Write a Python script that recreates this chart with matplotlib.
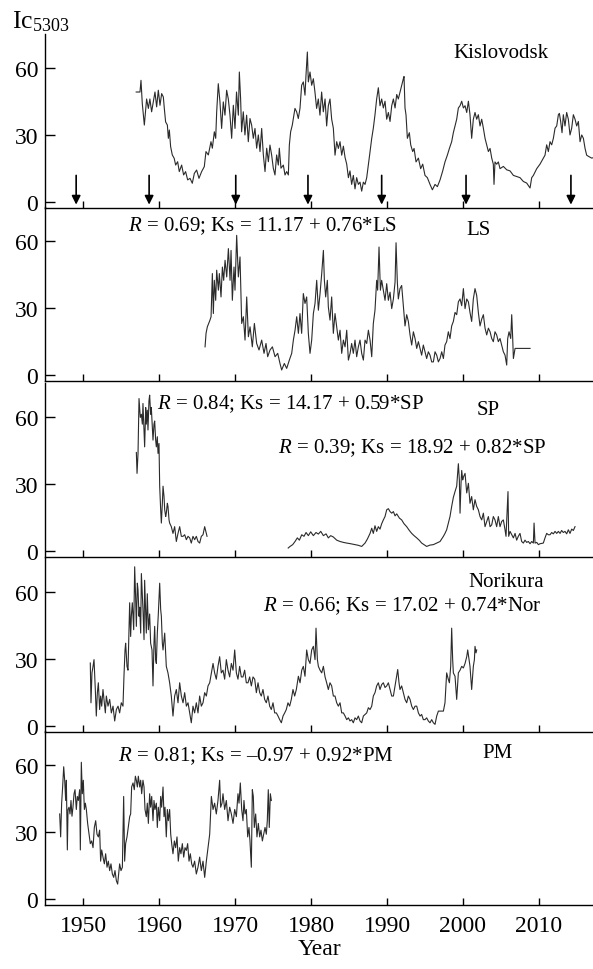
import numpy as np
import matplotlib
matplotlib.use("Agg")
import matplotlib.pyplot as plt

plt.rcParams['font.family'] = ['Liberation Serif', 'DejaVu Serif']
plt.rcParams['mathtext.fontset'] = 'custom'
plt.rcParams['mathtext.rm'] = 'Liberation Serif'
plt.rcParams['mathtext.it'] = 'Liberation Serif:italic'

# ---------------- data ----------------
kis_year = [1957.0, 1957.5, 1957.63, 1957.8, 1958.07, 1958.37, 1958.6, 1958.8, 1959.03, 1959.25, 1959.47, 1959.69,
            1959.91, 1960.13, 1960.35, 1960.57, 1960.7, 1960.87, 1961.1, 1961.23, 1961.36, 1961.53, 1961.75, 1962.0,
            1962.19, 1962.45, 1962.67, 1962.98, 1963.24, 1963.5, 1963.77, 1964.08, 1964.38, 1964.65, 1964.95,
            1965.26, 1965.61, 1965.96, 1966.18, 1966.49, 1966.84, 1967.02, 1967.28, 1967.46, 1967.59, 1967.8,
            1968.02, 1968.24, 1968.46, 1968.68, 1968.9, 1969.12, 1969.34, 1969.56, 1969.78, 1970.0, 1970.2,
            1970.44, 1970.57, 1970.74, 1970.87, 1971.09, 1971.31, 1971.53, 1971.75, 1971.97, 1972.19, 1972.41,
            1972.63, 1972.85, 1973.07, 1973.29, 1973.51, 1973.73, 1973.95, 1974.17, 1974.39, 1974.6, 1974.82,
            1975.04, 1975.26, 1975.48, 1975.7, 1975.83, 1976.05, 1976.36, 1976.58, 1976.8, 1977.02, 1977.15,
            1977.32, 1977.54, 1977.89, 1978.11, 1978.33, 1978.55, 1978.77, 1978.99, 1979.21, 1979.34, 1979.52,
            1979.65, 1979.87, 1980.09, 1980.31, 1980.52, 1980.74, 1980.96, 1981.18, 1981.4, 1981.62,
            1981.85, 1982.06, 1982.28, 1982.5, 1982.72, 1982.94, 1983.16, 1983.38, 1983.6, 1983.82, 1984.04,
            1984.26, 1984.48, 1984.7, 1984.92, 1985.13, 1985.35, 1985.57, 1985.79, 1986.01, 1986.23, 1986.45,
            1986.67, 1986.89, 1987.11, 1987.33, 1987.55, 1987.77, 1987.99, 1988.2, 1988.42, 1988.64, 1988.86,
            1989.08, 1989.3, 1989.52, 1989.74, 1989.96, 1990.18, 1990.4, 1990.62, 1990.84, 1991.06, 1991.28,
            1991.49, 1991.71, 1991.93, 1992.15, 1992.24, 1992.37, 1992.5, 1992.68, 1992.94, 1993.12, 1993.38,
            1993.56, 1993.82, 1994.13, 1994.43, 1994.7, 1995.0, 1995.31, 1995.66, 1995.97, 1996.32, 1996.63,
            1996.98, 1997.33, 1997.63, 1997.94, 1998.21, 1998.51, 1998.73, 1998.95, 1999.17, 1999.39, 1999.61,
            1999.83, 2000.05, 2000.27, 2000.49, 2000.71, 2000.92, 2001.14, 2001.36, 2001.58, 2001.8, 2002.02,
            2002.24, 2002.46, 2002.68, 2002.9, 2003.12, 2003.34, 2003.56, 2003.78, 2003.99, 2004.08, 2004.21,
            2004.43, 2004.65, 2004.87, 2005.31, 2005.75, 2006.19, 2006.63, 2007.06, 2007.5, 2007.94, 2008.38,
            2008.82, 2009.04, 2009.26, 2009.7, 2010.13, 2010.57, 2010.79, 2011.01, 2011.23, 2011.45, 2011.67,
            2011.89, 2012.11, 2012.33, 2012.55, 2012.68, 2012.85, 2013.03, 2013.2, 2013.42, 2013.64, 2013.86,
            2014.08, 2014.3, 2014.52, 2014.74, 2014.96, 2015.18, 2015.4, 2015.62, 2015.84, 2016.06, 2016.27,
            2016.5, 2016.93, 2017.3]
kis_val = [49.1, 49.1, 54.3, 44, 34.4, 46, 41.8, 46, 40.3, 44.7, 49.1, 42.5,
           49.9, 43.2, 48.4, 46.9, 41.8, 35.8, 34.4, 28.5, 32.2, 24.8, 21.1, 19.6,
           16.6, 18.1, 13.7, 16.6, 12.2, 13.7, 10, 10.7, 8.5, 12.9, 14.4,
           10.7, 13.7, 15.9, 22.6, 21.1, 27, 24.1, 31.4, 28.5, 40.3, 52.8,
           44.7, 32.9, 44.7, 38.8, 49.9, 46, 38.8, 28.5, 43.2, 32.9, 49.1,
           38.8, 58, 46, 31.4, 40.3, 30, 38.8, 27, 37.3, 34.4, 28.5,
           32.9, 24.1, 30, 22.6, 32.9, 21.1, 13.7, 24.1, 18.1, 25.5, 21.1,
           15.2, 12.2, 21.1, 16.6, 24.1, 15.2, 16.6, 12.2, 13.7, 12.2, 25.5,
           31.4, 34.4, 41.8, 40.3, 37.3, 41.8, 52.1, 53.6, 47.7, 56.5, 66.9,
           53.6, 58, 52.1, 55, 49.1, 41.8, 46, 38.8, 49.1, 40.3,
           46, 34, 43, 46, 37, 33, 21, 27, 24, 27, 21,
           25, 20, 17, 11, 14, 8, 12, 6, 11, 8, 9,
           5, 9, 8, 11, 17, 22.6, 28.5, 33, 39, 46, 51,
           43, 46, 42, 45, 37, 40, 36, 43, 46, 42, 48,
           46, 49, 52, 55, 56, 42, 39, 28.5, 31, 25.6, 22.6,
           24, 18, 19.7, 15, 17, 12, 11, 8, 5.6, 8, 7,
           10, 14, 18, 21, 24, 27, 31, 34, 37, 42, 43,
           45, 42, 43, 40, 45, 39, 28.5, 37, 40, 37, 39,
           34, 37, 33, 28.5, 25.6, 22.6, 24, 19.7, 17, 8, 18,
           17, 18, 15, 16, 14.5, 14, 12, 11.5, 11, 9.3, 8.6,
           6.4, 11, 12, 15, 17, 19.7, 21, 25.6, 22.6, 27, 25.6,
           28.5, 33, 34, 39, 39.6, 36, 31, 39, 34, 40, 37,
           30, 33, 39, 37, 34, 36, 27, 30, 28.5, 24, 21,
           20.5, 19.7, 20]

ls_year = [1966.06, 1966.19, 1966.36, 1966.71, 1966.85, 1967.02, 1967.15, 1967.28, 1967.46, 1967.59, 1967.81,
           1967.94, 1968.16, 1968.34, 1968.51, 1968.69, 1968.91, 1969.13, 1969.35, 1969.48, 1969.65, 1969.87,
           1970.0, 1970.22, 1970.44, 1970.66, 1970.88, 1971.1, 1971.32, 1971.54, 1971.76, 1971.98, 1972.28,
           1972.55, 1972.85, 1973.16, 1973.51, 1973.82, 1974.08, 1974.3, 1974.61, 1974.92, 1975.27, 1975.62,
           1975.92, 1976.14, 1976.49, 1976.8, 1977.15, 1977.46, 1977.68, 1977.9, 1978.12, 1978.34, 1978.55,
           1978.77, 1978.99, 1979.21, 1979.43, 1979.65, 1979.87, 1980.09, 1980.31, 1980.53, 1980.75, 1980.97,
           1981.19, 1981.41, 1981.63, 1981.76, 1981.93, 1982.15, 1982.28, 1982.5, 1982.72, 1982.94, 1983.16,
           1983.38, 1983.6, 1983.82, 1984.04, 1984.26, 1984.48, 1984.7, 1984.92, 1985.14, 1985.35, 1985.57,
           1985.79, 1986.01, 1986.23, 1986.45, 1986.67, 1986.89, 1987.11, 1987.33, 1987.55, 1987.77, 1987.99,
           1988.2, 1988.42, 1988.64, 1988.77, 1988.95, 1989.13, 1989.3, 1989.52, 1989.74, 1989.96, 1990.18,
           1990.4, 1990.62, 1990.84, 1991.06, 1991.19, 1991.36, 1991.49, 1991.71, 1991.93, 1992.15, 1992.37,
           1992.59, 1992.81, 1993.03, 1993.25, 1993.47, 1993.69, 1993.91, 1994.13, 1994.35, 1994.56, 1994.78,
           1995.0, 1995.22, 1995.44, 1995.66, 1995.88, 1996.1, 1996.32, 1996.54, 1996.76, 1996.98, 1997.2,
           1997.42, 1997.63, 1997.85, 1998.07, 1998.29, 1998.51, 1998.73, 1998.95, 1999.17, 1999.39, 1999.61,
           1999.83, 2000.05, 2000.27, 2000.49, 2000.71, 2000.92, 2001.14, 2001.36, 2001.58, 2001.8, 2002.02,
           2002.24, 2002.46, 2002.68, 2002.9, 2003.12, 2003.34, 2003.56, 2003.78, 2003.99, 2004.21, 2004.43,
           2004.65, 2004.87, 2005.09, 2005.31, 2005.53, 2005.75, 2005.88, 2006.06, 2006.28, 2006.41, 2006.54,
           2006.63, 2006.85, 2008.82]
ls_val = [12.7, 18.7, 21.6, 24.6, 26.1, 45.3, 27.5, 42.3, 33.4, 46.8, 37.9,
          45.3, 34.9, 48.2, 42.3, 51.2, 43.8, 56.4, 42.3, 55.6, 33.4, 48.2,
          37.9, 62.3, 43.8, 52.7, 23.1, 26.1, 15.7, 34.9, 17.2, 21.6, 12.7,
          23.1, 14.2, 11.3, 15.7, 9.8, 14.2, 8.3, 11.3, 12.7, 8.3, 9.8,
          5.3, 2.4, 5.3, 3.1, 6.8, 9.8, 15.7, 20.1, 26.1, 18.7, 27.5,
          18.7, 36.4, 32, 34.9, 18.7, 9.8, 15.7, 27.5, 32, 42.3, 29,
          36.4, 45.3, 55.6, 42.3, 34.9, 42.3, 30.5, 24.6, 34.9, 18.7, 27.5,
          21.6, 15.7, 20.1, 9.8, 15.7, 12.7, 20.1, 6.8, 9.8, 14.2, 9.8,
          15.7, 8.3, 12.7, 15.7, 9.8, 6.8, 15.7, 14.2, 20.1, 15.7, 8.3,
          23.1, 29, 42.3, 37.9, 57.1, 37.9, 42.3, 37.9, 33.4, 40.8, 33.4,
          37, 29.7, 34, 41.5, 59, 41.5, 34, 38.6, 40, 31, 22,
          27, 24, 18, 13.5, 19.4, 16.4, 12, 15, 12, 9, 13.5,
          10.5, 7.5, 10.5, 9, 6, 6, 10.5, 9, 6, 7.5, 10.5,
          7.5, 13.5, 15, 19.4, 16.4, 22, 24, 28, 27, 32.7, 34,
          31, 38.6, 29.7, 34, 32.7, 28, 24, 34, 38.6, 35.6, 28,
          22, 25, 27, 21, 18, 21, 19.4, 16.4, 15, 19.4, 18,
          15, 16.4, 13.5, 10.5, 9, 4.6, 16.4, 19.4, 16.4, 27, 16.4,
          7.5, 12, 12]

sp_year = [1957.02, 1957.11, 1957.24, 1957.37, 1957.54, 1957.68, 1957.81, 1957.89, 1958.03, 1958.11, 1958.25,
           1958.33, 1958.46, 1958.55, 1958.68, 1958.77, 1958.9, 1958.99, 1959.12, 1959.21, 1959.34, 1959.43,
           1959.56, 1959.65, 1959.78, 1959.87, 1960.0, 1960.09, 1960.22, 1960.31, 1960.44, 1960.53, 1960.66,
           1960.75, 1960.88, 1960.96, 1961.1, 1961.18, 1961.32, 1961.4, 1961.62, 1961.84, 1962.06, 1962.28,
           1962.5, 1962.72, 1962.94, 1963.16, 1963.38, 1963.6, 1963.82, 1964.04, 1964.25, 1964.47, 1964.69,
           1964.91, 1965.13, 1965.35, 1965.57, 1965.79, 1966.01, 1966.23, 1966.32,
           1971.0,
           1977.0, 1977.24, 1977.59, 1977.9, 1978.2, 1978.47, 1978.78, 1979.08, 1979.35, 1979.65, 1979.96,
           1980.31, 1980.66, 1980.97, 1981.28, 1981.63, 1981.98, 1982.28, 1982.59, 1982.94, 1983.38, 1983.82,
           1984.26, 1984.7, 1985.22, 1985.79, 1986.23, 1986.67, 1987.11, 1987.42, 1987.77, 1987.99, 1988.2,
           1988.42, 1988.64, 1988.86, 1989.08, 1989.3, 1989.52, 1989.74, 1989.96, 1990.18, 1990.4, 1990.62,
           1990.84, 1991.06, 1991.28, 1991.63, 1991.93, 1992.24, 1992.59, 1992.94, 1993.25, 1993.56, 1993.91,
           1994.26, 1994.56, 1994.87, 1995.22, 1995.66, 1996.1, 1996.54, 1996.98, 1997.42, 1997.63, 1997.85,
           1998.07, 1998.29, 1998.51, 1998.73, 1998.95, 1999.17, 1999.39, 1999.52, 1999.61, 1999.74, 1999.83,
           1999.96, 2000.05, 2000.27, 2000.49, 2000.71, 2000.92, 2001.14, 2001.36, 2001.58, 2001.8, 2002.02,
           2002.24, 2002.46, 2002.68, 2002.9, 2003.12, 2003.34, 2003.56, 2003.78, 2003.99, 2004.21, 2004.43,
           2004.65, 2004.87, 2005.09, 2005.31, 2005.53, 2005.66, 2005.92, 2006.01, 2006.19, 2006.41, 2006.63,
           2006.85, 2007.06, 2007.28, 2007.5, 2007.72, 2007.94, 2008.16, 2008.38, 2008.6, 2008.82, 2009.04,
           2009.26, 2009.35, 2009.48, 2009.7, 2009.92, 2010.13, 2010.57, 2010.79, 2011.01, 2011.23, 2011.45,
           2011.67, 2011.89, 2012.11, 2012.33, 2012.55, 2012.77, 2012.98, 2013.2, 2013.42, 2013.64, 2013.86,
           2014.08, 2014.3, 2014.52, 2014.74]
sp_val = [44, 34.7, 43.6, 68, 59.6, 61, 56.6, 65.8, 54, 46.5, 64,
          56.6, 62.8, 54, 67, 69.5, 61, 64, 55, 49.5, 56.6, 58,
          49.5, 46.5, 51, 43.6, 48, 29, 18.5, 12.6, 21.4, 29, 24.4,
          18.5, 15.5, 17, 21.4, 20, 14, 12.6, 11, 8, 11, 4.4,
          8, 11, 6.7, 6.7, 7.4, 5.2, 6.7, 6, 3.7, 6.7, 5.2,
          6.7, 4.4, 3.7, 6.7, 7.4, 11, 8, 6.7,
          np.nan,
          1.5, 2.2, 3, 4.4, 6, 5, 7.4, 6.7, 8.4, 7, 8.7,
          7, 8.4, 7.7, 8.9, 7, 7.8, 6, 7, 6.4, 5, 4.4,
          4, 3.7, 3.4, 3, 2.7, 2.2, 3.7, 5.5, 8, 10.3, 8,
          11.4, 8.9, 11, 9.9, 12.3, 14, 15.5, 18.5, 19, 17.7, 17,
          17.7, 15.8, 16.7, 14.8, 14, 12.3, 11, 9.3, 8, 7, 6,
          4.9, 3.7, 3, 2.2, 2.8, 3, 3.7, 4.4, 6.7, 8, 9.6,
          12.6, 15.5, 20, 24, 26.6, 29, 39, 31.8, 17, 30.3, 36,
          31.8, 33, 34.7, 26, 30.3, 21.4, 24.4, 18.5, 23, 20, 18.5,
          15.5, 14, 17, 11, 13.3, 15.5, 11, 11.8, 15.5, 14, 11,
          15.5, 11, 13.3, 14, 9.6, 6.7, 26.6, 6.7, 8.9, 7.4, 6,
          8, 5, 6.7, 8, 4.4, 3.7, 5, 4, 4.4, 3.4, 4.4,
          3.7, 12.6, 3.7, 4, 3, 3.4, 3.7, 6, 8, 7.4, 7.4,
          8.4, 7.8, 8.9, 8, 8.9, 8, 9.3, 8.4, 8.9, 7.8, 9.6,
          8, 9.9, 9.3, 11]

nor_year = [1950.96, 1951.05, 1951.18, 1951.32, 1951.45, 1951.62, 1951.75, 1951.89, 1952.02, 1952.19, 1952.32,
            1952.46, 1952.63, 1952.76, 1952.94, 1953.07, 1953.29, 1953.51, 1953.73, 1953.95, 1954.17, 1954.39,
            1954.61, 1954.82, 1955.04, 1955.26, 1955.39, 1955.53, 1955.61, 1955.79, 1955.92, 1956.05, 1956.14,
            1956.27, 1956.36, 1956.49, 1956.67, 1956.8, 1956.93, 1957.02, 1957.15, 1957.24, 1957.37, 1957.46,
            1957.59, 1957.68, 1957.81, 1957.89, 1958.03, 1958.11, 1958.25, 1958.33, 1958.46, 1958.6, 1958.77,
            1958.9, 1959.08, 1959.21, 1959.34, 1959.43, 1959.56, 1959.65, 1959.78, 1959.91, 1960.09, 1960.22,
            1960.31, 1960.44, 1960.53, 1960.75, 1960.96, 1961.18, 1961.4, 1961.62, 1961.84, 1962.06, 1962.28,
            1962.5, 1962.72, 1962.94, 1963.16, 1963.38, 1963.6, 1963.82, 1964.04, 1964.25, 1964.47, 1964.69,
            1964.91, 1965.13, 1965.35, 1965.57, 1965.79, 1966.01, 1966.23, 1966.45, 1966.67, 1966.89, 1967.11,
            1967.32, 1967.54, 1967.76, 1967.98, 1968.2, 1968.42, 1968.64, 1968.86, 1969.08, 1969.3, 1969.52,
            1969.74, 1969.96, 1970.18, 1970.39, 1970.61, 1970.83, 1971.05, 1971.27, 1971.49, 1971.71, 1971.93,
            1972.15, 1972.37, 1972.59, 1972.81, 1973.03, 1973.25, 1973.46, 1973.68, 1973.9, 1974.12, 1974.34,
            1974.56, 1974.78, 1975.0, 1975.22, 1975.44, 1975.66, 1975.88, 1976.1, 1976.32, 1976.54, 1976.75,
            1976.97, 1977.19, 1977.41, 1977.63, 1977.85, 1978.07, 1978.34, 1978.56, 1978.78, 1978.99, 1979.21,
            1979.43, 1979.65, 1979.87, 1980.09, 1980.31, 1980.53, 1980.66, 1980.84, 1980.97, 1981.19, 1981.41,
            1981.63, 1981.85, 1982.06, 1982.28, 1982.5, 1982.72, 1982.94, 1983.16, 1983.38, 1983.6, 1983.82,
            1984.04, 1984.26, 1984.48, 1984.7, 1984.92, 1985.13, 1985.35, 1985.57, 1985.79, 1986.01, 1986.23,
            1986.45, 1986.67, 1986.89, 1987.11, 1987.33, 1987.55, 1987.77, 1987.99, 1988.2, 1988.42, 1988.64,
            1988.86, 1989.08, 1989.3, 1989.52, 1989.74, 1989.96, 1990.18, 1990.4, 1990.62, 1990.84, 1991.06,
            1991.28, 1991.41, 1991.58, 1991.71, 1991.93, 1992.15, 1992.37, 1992.59, 1992.81, 1993.03, 1993.25,
            1993.47, 1993.69, 1993.91, 1994.13, 1994.35, 1994.56, 1994.78, 1995.0, 1995.22, 1995.44, 1995.66,
            1995.88, 1996.1, 1996.32, 1996.54, 1996.76, 1997.42, 1997.63, 1997.85, 1998.07, 1998.21, 1998.38,
            1998.51, 1998.64, 1998.73, 1998.95, 1999.17, 1999.3, 1999.39, 1999.61, 1999.83, 2000.05, 2000.27,
            2000.49, 2000.62, 2000.79, 2000.92, 2001.14, 2001.27, 2001.36, 2001.5, 2001.58, 2001.71, 2001.8]
nor_val = [28.2, 10.5, 23.8, 26.7, 29.7, 16.4, 4.6, 15, 19.4, 7.5, 13.5,
           9, 16.4, 12, 6, 13.5, 9, 12, 6, 9, 2.4, 7.5,
           9, 6, 10.5, 9, 22.3, 34, 37, 26.7, 25, 43, 55,
           40, 49, 55, 43, 71, 56.6, 44.5, 63.7, 60.7, 49, 53,
           41.5, 68, 58, 52, 38.6, 65, 49, 41.5, 59, 43, 50,
           37, 34, 18, 37, 44.5, 29.7, 28, 41.5, 50, 63.7, 52,
           49, 37, 34, 41.5, 26.7, 23.8, 19.4, 13.5, 4.6, 13.5, 16.4,
           10.5, 19.4, 13.5, 10.5, 15, 9, 10.5, 6, 1.6, 9, 6,
           10.5, 6, 13.5, 9, 10.5, 15, 13.5, 18, 19.4, 23.8, 28,
           23.8, 21, 26.7, 31, 23.8, 25, 21, 29.7, 25, 22, 28,
           25, 34, 23.8, 21, 26.7, 22, 22, 25, 19.4, 19.4, 22,
           18, 22, 21, 15, 19.4, 15, 13.5, 16.4, 12, 10.5, 13.5,
           9, 7.5, 10.5, 6, 6, 4.6, 3, 1.6, 4.6, 6, 7.5,
           10.5, 9, 12, 16.4, 13.5, 16.4, 22.3, 19.4, 25, 26.7, 22.3,
           34, 29.7, 28, 34, 35.6, 29.7, 43.7, 29.7, 26.7, 25, 23.8,
           26.7, 22, 19.4, 16.4, 19.4, 18, 13.5, 13.5, 10.5, 9, 10.5,
           6, 6, 4.6, 3, 3.8, 2.4, 3, 1.6, 3.8, 3, 4.6,
           2.4, 1.6, 4.6, 5.3, 6, 8.3, 7.5, 9, 13.5, 15, 18,
           19.4, 16.4, 18.6, 19.4, 17.3, 18, 19.4, 16.4, 13.5, 13.5, 18,
           22.3, 25.3, 19.4, 16.4, 18, 15, 12, 10.5, 13.5, 12, 9,
           7.5, 9, 9, 6, 4.6, 5.3, 3, 3, 3.8, 2.4, 1.6,
           3, 1.6, 0.9, 4.6, 6.8, 6.8, 10.5, 23.8, 20.9, 19.4, 26.7,
           43.7, 29.7, 23.8, 22.3, 12, 19.4, 23.8, 25, 26.7, 26, 28,
           31, 34, 29.7, 26.7, 16.4, 22.3, 26.7, 29.7, 35.6, 32.7, 34]

pm_year = [1946.93, 1947.06, 1947.19, 1947.32, 1947.46, 1947.59, 1947.72, 1947.81, 1947.94, 1948.03, 1948.16,
           1948.29, 1948.42, 1948.55, 1948.68, 1948.82, 1948.95, 1949.12, 1949.25, 1949.39, 1949.56, 1949.65,
           1949.78, 1949.91, 1950.04, 1950.18, 1950.31, 1950.44, 1950.61, 1950.79, 1950.96, 1951.14, 1951.32,
           1951.49, 1951.67, 1951.84, 1952.02, 1952.19, 1952.32, 1952.46, 1952.63, 1952.81, 1952.98, 1953.16,
           1953.33, 1953.51, 1953.68, 1953.86, 1954.04, 1954.21, 1954.39, 1954.56, 1954.69, 1954.82, 1955.0,
           1955.18, 1955.35, 1955.48, 1955.61, 1955.79, 1955.96, 1956.14, 1956.27, 1956.4, 1956.58, 1956.75,
           1956.89, 1957.02, 1957.15, 1957.28, 1957.46, 1957.59, 1957.72, 1957.89, 1958.03, 1958.16, 1958.33,
           1958.46, 1958.6, 1958.77, 1958.9, 1959.04, 1959.21, 1959.34, 1959.47, 1959.65, 1959.78, 1959.91,
           1960.09, 1960.22, 1960.35, 1960.53, 1960.66, 1960.79, 1960.96, 1961.1, 1961.23, 1961.4, 1961.54,
           1961.67, 1961.84, 1962.02, 1962.19, 1962.37, 1962.54, 1962.72, 1962.89, 1963.07, 1963.25, 1963.42,
           1963.6, 1963.77, 1963.95, 1964.12, 1964.3, 1964.47, 1964.69, 1964.91, 1965.13, 1965.35, 1965.57,
           1965.79, 1966.01, 1966.23, 1966.45, 1966.67, 1966.89, 1967.11, 1967.32, 1967.54, 1967.76, 1967.98,
           1968.11, 1968.29, 1968.42, 1968.64, 1968.86, 1969.08, 1969.3, 1969.52, 1969.74, 1969.96, 1970.18,
           1970.39, 1970.53, 1970.7, 1970.88, 1971.05, 1971.18, 1971.32, 1971.49, 1971.67, 1971.84, 1971.97,
           1972.15, 1972.28, 1972.41, 1972.54, 1972.72, 1972.89, 1973.07, 1973.25, 1973.42, 1973.6, 1973.77,
           1973.95, 1974.12, 1974.25, 1974.38, 1974.51, 1974.65, 1974.78]
pm_val = [38, 27.8, 42.8, 50, 59, 53, 44, 53, 22, 40, 41,
          38, 44, 37, 41, 47, 48.8, 40, 45.8, 44, 48.8, 22,
          61, 47, 53, 40, 42.8, 40, 33.8, 29, 24.8, 26, 23,
          32, 35, 29, 27.8, 30.8, 17, 22, 18.8, 15.8, 20.3, 14.3,
          17, 12.8, 15.8, 11.3, 9.8, 12.8, 8.3, 6.8, 11.3, 15.8, 12.8,
          14.3, 45.8, 17, 24.8, 27.8, 32, 36.8, 38, 50, 51.8, 48.8,
          54.8, 53, 50, 54.8, 50, 53, 47, 53, 50, 40, 36.8,
          42.8, 33.8, 47, 41, 45.8, 35, 44, 40, 42.8, 32, 41,
          35, 45.8, 41, 50, 36.8, 41, 27.8, 40, 35, 40, 29,
          24.8, 20.3, 26, 23, 27.8, 17, 23, 20.3, 24.8, 18.8, 23,
          21.8, 24.8, 17, 20.3, 15.8, 14.3, 17, 11.3, 14.3, 18.8, 12.8,
          17, 9.8, 17, 23, 29, 45.8, 40, 42.8, 38, 44, 53,
          41, 42.8, 47, 40, 44, 35, 41, 38, 33.8, 40, 36.8,
          47, 42.8, 51.8, 40, 35, 44, 38, 40, 27.8, 32, 26,
          14.3, 48.8, 45.8, 32, 38, 27.8, 33.8, 27.8, 30.8, 26, 29,
          32, 29, 35, 48.8, 32, 47, 44]

arrow_years = [1949.1, 1958.7, 1970.1, 1979.6, 1989.3, 2000.4, 2014.2]

x_ticks = [1950, 1960, 1970, 1980, 1990, 2000, 2010]
y_ticks = [0, 30, 60]

# ---------------- figure ----------------
W, H = 593, 970
fig = plt.figure(figsize=(W / 100, H / 100), dpi=100)
left = 45 / W
bottoms_px = [209, 382, 558, 733, 906]
ph = 174.2
axes = []
for b in bottoms_px:
    ax = fig.add_axes([left, 1 - b / H, 1 - left, ph / H])
    axes.append(ax)

series = [(kis_year, kis_val), (ls_year, ls_val), (sp_year, sp_val),
          (nor_year, nor_val), (pm_year, pm_val)]
line_color = '#2b2b2b'
for i, (ax, (xs, ys)) in enumerate(zip(axes, series)):
    ax.plot(xs, ys, color=line_color, lw=0.8)
    ax.set_xlim(1945, 1945 + 548 / 7.6)
    ax.set_ylim(-2.5, 75)
    ax.spines['top'].set_visible(False)
    ax.spines['right'].set_visible(False)
    ax.spines['left'].set_linewidth(1.0)
    ax.spines['bottom'].set_linewidth(1.0)
    ax.set_xticks(x_ticks)
    ax.set_yticks(y_ticks)
    ax.tick_params(axis='y', direction='in', length=7, width=1.0, labelsize=17, pad=5)
    ax.tick_params(axis='x', direction='in', length=5, width=1.0, labelsize=17, pad=7)
    if i < 4:
        ax.tick_params(axis='x', labelbottom=False)
    ax.patch.set_alpha(0)

axes[-1].set_xlabel('Year', fontsize=17, labelpad=2)

fs = 15
a1, a2, a3, a4, a5 = axes
a1.text(1998.7, 66.5, 'Kislovodsk', fontsize=fs, ha='left', va='center')
for ya in arrow_years:
    a1.annotate('', xy=(ya, -1.0), xytext=(ya, 12),
                arrowprops=dict(arrowstyle='-|>', color='black', lw=1.2, mutation_scale=13,
                                shrinkA=0, shrinkB=0))

a2.text(1955.9, 67, '$R$ = 0.69; Ks = 11.17 + 0.76*LS', fontsize=fs, ha='left', va='center')
a2.text(2000.5, 64.8, 'LS', fontsize=fs, ha='left', va='center')

a3.text(1959.7, 66.1, '$R$ = 0.84; Ks = 14.17 + 0.59*SP', fontsize=fs, ha='left', va='center')
a3.text(2001.8, 63, 'SP', fontsize=fs, ha='left', va='center')
a3.text(1975.7, 46.3, '$R$ = 0.39; Ks = 18.92 + 0.82*SP', fontsize=fs, ha='left', va='center')

a4.text(2000.7, 64.3, 'Norikura', fontsize=fs, ha='left', va='center')
a4.text(1973.7, 54, '$R$ = 0.66; Ks = 17.02 + 0.74*Nor', fontsize=fs, ha='left', va='center')

a5.text(1954.6, 64.3, '$R$ = 0.81; Ks = \u20130.97 + 0.92*PM', fontsize=fs, ha='left', va='center')
a5.text(2002.6, 65.2, 'PM', fontsize=fs, ha='left', va='center')

fig.text(12 / W, 1 - 22 / H, 'Ic$_{5303}$', fontsize=18.5, ha='left', va='center')

fig.savefig('out.png', dpi=100)
